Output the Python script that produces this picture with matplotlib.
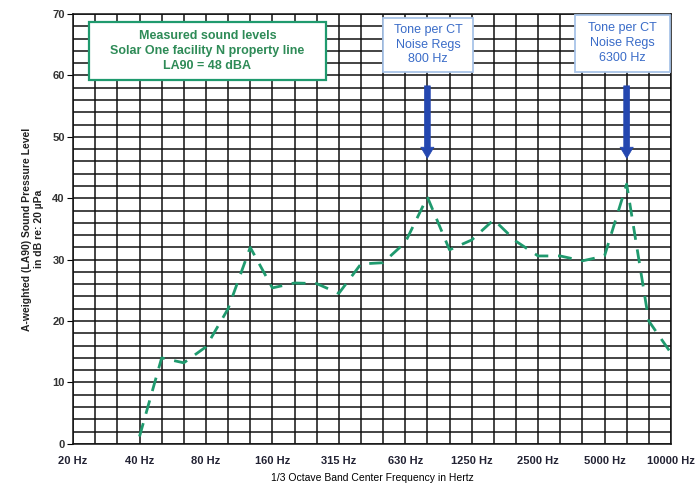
import matplotlib
matplotlib.use("Agg")
import matplotlib.pyplot as plt
from matplotlib.patches import Rectangle
import numpy as np

bands = ["20", "25", "31.5", "40", "50", "63", "80", "100", "125", "160", "200", "250",
         "315", "400", "500", "630", "800", "1000", "1250", "1600", "2000", "2500",
         "3150", "4000", "5000", "6300", "8000", "10000"]
tick_labels = ["20 Hz", "40 Hz", "80 Hz", "160 Hz", "315 Hz", "630 Hz", "1250 Hz",
               "2500 Hz", "5000 Hz", "10000 Hz"]
meas_bands = ["40", "50", "63", "80", "100", "125", "160", "200", "250", "315", "400",
              "500", "630", "800", "1000", "1250", "1600", "2000", "2500", "3150",
              "4000", "5000", "6300", "8000", "10000"]
levels = [1.2, 14, 13.2, 15.8, 22, 32, 25.4, 26.2, 26.1, 24.5, 29.3, 29.5, 32.8, 40.2,
          31.6, 33.2, 36.5, 33, 30.6, 30.6, 29.8, 30.6, 42.3, 20, 14.8]
tone_bands = ["800", "6300"]
tone_texts = ["Tone per CT\nNoise Regs\n800 Hz", "Tone per CT\nNoise Regs\n6300 Hz"]

plt.rcParams['font.family'] = ['Liberation Sans', 'DejaVu Sans']

fig = plt.figure(figsize=(6.96, 4.83), dpi=100)
ax = fig.add_axes([0.105, 0.081, 0.859, 0.890])

idx = {b: i for i, b in enumerate(bands)}
x = [idx[b] for b in meas_bands]

ax.set_xlim(0, len(bands) - 1)
ax.set_ylim(0, 70)
ax.set_xticks(range(len(bands)), minor=True)
ax.set_yticks(np.arange(0, 71, 2), minor=True)
ax.set_xticks([bands.index(t.split()[0]) for t in tick_labels])
ax.set_xticklabels(tick_labels, fontsize=8, fontweight='bold', color='#222233')
ax.set_yticks(np.arange(0, 71, 10))
ax.set_yticklabels([str(v) for v in range(0, 71, 10)], fontsize=8, fontweight='bold', color='#333333')
ax.grid(True, which='both', color='#111111', linewidth=1.1)
ax.tick_params(which='minor', length=0)
ax.tick_params(axis='x', which='major', length=0, pad=9)
ax.tick_params(axis='y', which='major', length=4, pad=2)
for s in ax.spines.values():
    s.set_color('#111111')
    s.set_linewidth(1.1)
ax.set_axisbelow(True)

ax.plot(x, levels, color='#1f9a6e', linewidth=2.0, linestyle=(0, (5, 3.5)), zorder=3)

ax.set_xlabel("1/3 Octave Band Center Frequency in Hertz", fontsize=7.5, labelpad=5)
ax.set_ylabel("A-weighted (LA90) Sound Pressure Level\nin dB re: 20 µPa", fontsize=7.5,
              fontweight='bold', color='#222222', labelpad=6)

# green legend box
ax.add_patch(Rectangle((0.72, 59.3), 10.7, 9.4, fc='white', ec='#1f9a6e', lw=1.6, zorder=5))
ax.text(6.07, 64.0, "Measured sound levels\nSolar One facility N property line\nLA90 = 48 dBA",
        ha='center', va='center', fontsize=9, fontweight='bold', color='#2e8b57',
        linespacing=1.3, zorder=6)

box_specs = [(14.0, 60.6, 4.06, 8.8), (22.66, 60.6, 4.29, 9.3)]
for b, t, (bx, by, bw, bh) in zip(tone_bands, tone_texts, box_specs):
    xi = idx[b]
    ax.add_patch(Rectangle((bx, by), bw, bh, fc='white', ec='#a8c4e8', lw=1.3, zorder=5))
    ax.text(bx + bw / 2, by + bh / 2, t, ha='center', va='center', fontsize=9,
            color='#3a6cc8', linespacing=1.3, zorder=6)
    ax.annotate("", xy=(xi, 46.5), xytext=(xi, 58.3),
                arrowprops=dict(arrowstyle='simple,head_width=0.95,head_length=0.8,tail_width=0.42',
                                mutation_scale=10, fc='#2447b0', ec='#2447b0', lw=0.5,
                                shrinkA=0, shrinkB=0), zorder=6)

fig.savefig("out.png", dpi=100)
